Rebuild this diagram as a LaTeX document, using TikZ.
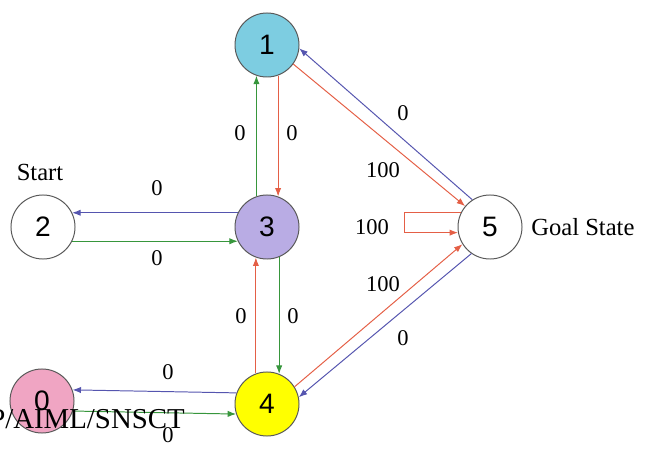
\documentclass[tikz,border=0pt]{standalone}
\usepackage{fontspec}
\setmainfont{Liberation Serif}
\newfontfamily\numfont{Liberation Sans}
\usetikzlibrary{arrows.meta}

\definecolor{edgeblue}{RGB}{85,85,175}
\definecolor{edgegreen}{RGB}{55,150,60}
\definecolor{edgered}{RGB}{228,95,70}
\definecolor{stateone}{RGB}{125,205,225}
\definecolor{statethree}{RGB}{185,172,228}
\definecolor{statefour}{RGB}{255,255,0}
\definecolor{statezero}{RGB}{240,165,195}

\begin{document}
\begin{tikzpicture}[x=0.025cm,y=0.025cm,
    state/.style={circle,draw=black!65,line width=0.7pt,minimum size=1.6cm,inner sep=0pt,
        font=\numfont\fontsize{20}{22}\selectfont},
    lbl/.style={font=\fontsize{16}{18}\selectfont,inner sep=0pt},
    tag/.style={font=\fontsize{17.5}{20}\selectfont,inner sep=0pt},
    link/.style={line width=0.7pt,-{Latex[length=6pt,width=4.5pt]}}]
    \useasboundingbox (0,0) rectangle (645,448);

    % the six states
    \node[state,fill=stateone]   (n1) at (267,403) {1};
    \node[state,fill=white]      (n2) at (43,221)  {2};
    \node[state,fill=statethree] (n3) at (267,221) {3};
    \node[state,fill=statefour]  (n4) at (267,44)  {4};
    \node[state,fill=white]      (n5) at (490,221) {5};
    \node[state,fill=statezero]  (n0) at (42,47)   {0};

    \node[tag] (start) at (40,276) {Start};
    \node[tag,anchor=west] (goal) at (531,221) {Goal State};

    % moves between 1 and 3
    \draw[link,edgegreen] (n3.109) -- (n1.251);
    \draw[link,edgered]   (n1.290) -- (n3.70);
    % moves between 2 and 3
    \draw[link,edgeblue]  (n3.154) -- (n2.26);
    \draw[link,edgegreen] (n2.-26) -- (n3.206);
    % moves between 3 and 4
    \draw[link,edgegreen] (n3.-68) -- (n4.68);
    \draw[link,edgered]   (n4.110) -- (n3.250);
    % moves between 4 and 0
    \draw[link,edgeblue]  (n4.160) -- (n0.20);
    \draw[link,edgegreen] (n0.-18) -- (n4.198);
    % moves into and out of the goal
    \draw[link,edgered]   (n1.-36) -- (n5.140);
    \draw[link,edgeblue]  (n5.123) -- (n1.-6);
    \draw[link,edgered]   (n4.32)  -- (n5.212);
    \draw[link,edgeblue]  (n5.235) -- (n4.12);
    % staying in the goal
    \draw[link,edgered] (n5.154) -- ++(-56,0) |- (n5.190);

    % rewards
    \node[lbl] (r13a) at (240,315) {0};
    \node[lbl] (r13b) at (292,315) {0};
    \node[lbl] (r32)  at (157,260) {0};
    \node[lbl] (r23)  at (157,190) {0};
    \node[lbl] (r34a) at (241,132) {0};
    \node[lbl] (r34b) at (293,132) {0};
    \node[lbl] (r40)  at (168,76)  {0};
    \node[lbl] (r04)  at (168,13)  {0};
    \node[lbl] (r51)  at (403,335) {0};
    \node[lbl] (r15)  at (383,278) {100};
    \node[lbl] (r55)  at (372,221) {100};
    \node[lbl] (r45)  at (383,164) {100};
    \node[lbl] (r54)  at (403,110) {0};

    % footer text
    \node[anchor=base west,inner sep=0pt,font=\fontsize{20.5}{22}\selectfont] (foot) at (-11,20) {P/AIML/SNSCT};
\end{tikzpicture}
\end{document}
